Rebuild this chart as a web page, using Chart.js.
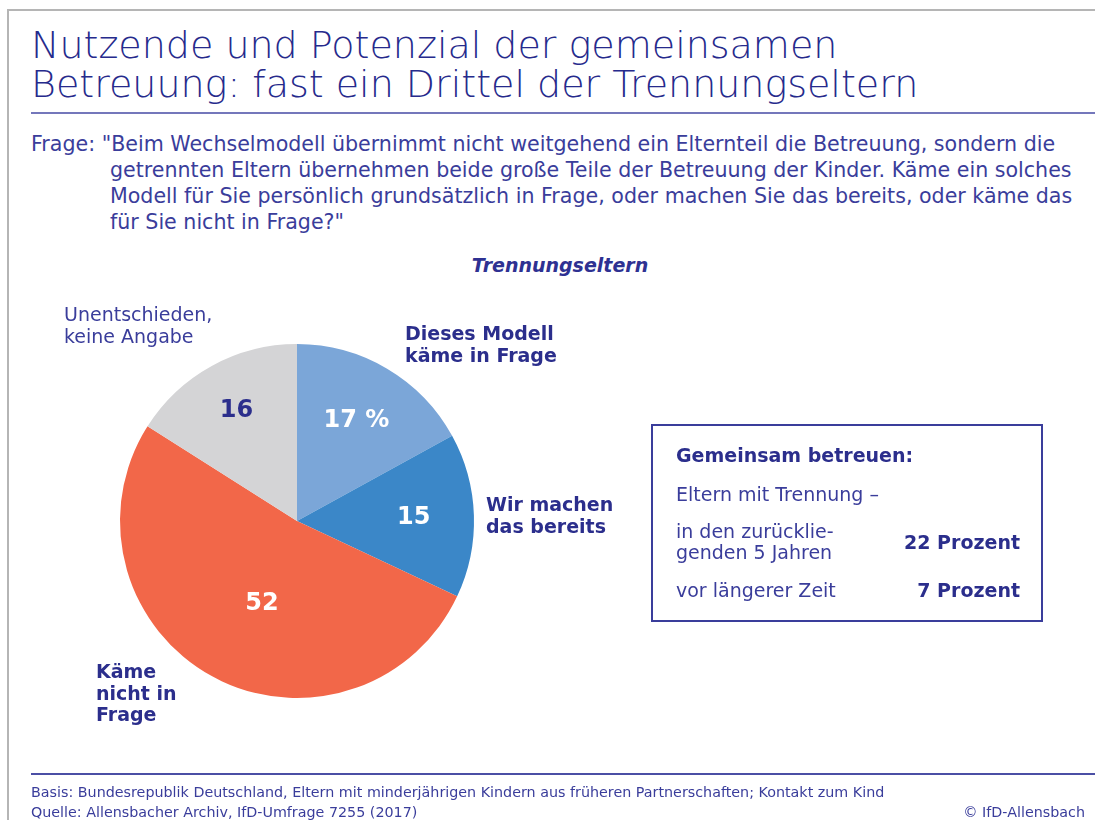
<!DOCTYPE html>
<html lang="de">
<head>
<meta charset="utf-8">
<title>Nutzende und Potenzial der gemeinsamen Betreuung</title>
<script src="https://cdn.jsdelivr.net/npm/chart.js@4.4.1/dist/chart.umd.min.js"></script>
<style>
  body {
    margin: 0;
    width: 1095px;
    height: 820px;
    position: relative;
    overflow: hidden;
    background: #fff;
    font-family: 'DejaVu Sans', sans-serif;
    color: #2e3192;
  }
  .frame {
    position: absolute; left: 7px; top: 9px; right: -2px; bottom: -2px;
    border-left: 2px solid #b5b5b5; border-top: 2px solid #b5b5b5;
  }
  .title {
    position: absolute; left: 31px; top: 26px;
    font-size: 38px; line-height: 39px; font-weight: 300;
    color: #262a8c;
  }
  .rule { position: absolute; left: 31px; right: 0; height: 0; border-top: 2px solid #4b4fa5; }
  .rule.light { border-top-color: #7477bb; }
  .question {
    position: absolute; left: 31px; top: 131px; width: 1064px;
    font-size: 20.6px; line-height: 26px; color: #3a3d9b; white-space: nowrap;
  }
  .question .indent { padding-left: 79px; display: block; }
  .subtitle {
    position: absolute; left: 440px; width: 240px; top: 254px; text-align: center;
    font-size: 19px; font-weight: bold; font-style: italic;
  }
  #chartWrap { position: absolute; left: 0; top: 250px; width: 660px; height: 542px; }
  .lbl { position: absolute; font-size: 19px; line-height: 21.5px; white-space: nowrap; }
  .lbl.b { font-weight: bold; color: #2b2e8c; }
  .lbl.n { color: #3a3d9b; }
  .box {
    position: absolute; left: 651px; top: 424px; width: 388px; height: 194px;
    border: 2px solid #3a3d9b;
  }
  .box div { position: absolute; font-size: 19px; line-height: 21px; color: #3a3d9b; white-space: nowrap; }
  .box .b { font-weight: bold; color: #2b2e8c; }
  .box .r { right: 21px; text-align: right; }
  .foot { position: absolute; font-size: 14.3px; line-height: 18px; color: #3a3d9b; white-space: nowrap; }
</style>
</head>
<body>
<div class="frame"></div>
<div class="title">Nutzende und Potenzial der gemeinsamen<br>Betreuung: fast ein Drittel der Trennungseltern</div>
<div class="rule light" style="top:112px"></div>
<div class="question">Frage: "Beim Wechselmodell übernimmt nicht weitgehend ein Elternteil die Betreuung, sondern die<span class="indent">getrennten Eltern übernehmen beide große Teile der Betreuung der Kinder. Käme ein solches<br>Modell für Sie persönlich grundsätzlich in Frage, oder machen Sie das bereits, oder käme das<br>für Sie nicht in Frage?"</span></div>
<div class="subtitle">Trennungseltern</div>

<div id="chartWrap"><canvas id="pie"></canvas></div>
<div id="labels"></div>

<div class="box">
  <div class="b" style="left:23px; top:19px;">Gemeinsam betreuen:</div>
  <div style="left:23px; top:58px;">Eltern mit Trennung –</div>
  <div style="left:23px; top:95px;">in den zurücklie-<br>genden 5 Jahren</div>
  <div class="b r" style="top:106px;">22 Prozent</div>
  <div style="left:23px; top:154px;">vor längerer Zeit</div>
  <div class="b r" style="top:154px;">7 Prozent</div>
</div>

<div class="rule" style="top:773px"></div>
<div class="foot" style="left:31px; top:783px;">Basis: Bundesrepublik Deutschland, Eltern mit minderjährigen Kindern aus früheren Partnerschaften; Kontakt zum Kind</div>
<div class="foot" style="left:31px; top:803px;">Quelle: Allensbacher Archiv, IfD-Umfrage 7255 (2017)</div>
<div class="foot" style="right:10px; top:803px;">© IfD-Allensbach</div>

<script>
// Werte aus der Grafik (im Uhrzeigersinn ab 12 Uhr)
const categories = [
  ['Dieses Modell', 'käme in Frage'],
  ['Wir machen', 'das bereits'],
  ['Käme', 'nicht in', 'Frage'],
  ['Unentschieden,', 'keine Angabe']
];
const values = [17, 15, 52, 16];
const valueLabels = ['17 %', '15', '52', '16'];

const sliceColors = ['#7ba6d8', '#3b87c8', '#f26749', '#d4d4d6'];
const valueColors = ['#ffffff', '#ffffff', '#ffffff', '#2b2e8c'];
const valueRadius = [0.66, 0.66, 0.51, 0.71];
const valueAngleShift = [0, 0, -6, 0]; // Grad

// Außenbeschriftungen
const labelPos = [
  { left: 405, top: 323, cls: 'b' },
  { left: 486, top: 494, cls: 'b' },
  { left: 96, top: 661, cls: 'b' },
  { left: 64, top: 304, cls: 'n' }
];
const labelHost = document.getElementById('labels');
categories.forEach((lines, i) => {
  const d = document.createElement('div');
  d.className = 'lbl ' + labelPos[i].cls;
  d.style.left = labelPos[i].left + 'px';
  d.style.top = labelPos[i].top + 'px';
  d.innerHTML = lines.join('<br>');
  labelHost.appendChild(d);
});

const valueLabelPlugin = {
  id: 'valueLabels',
  afterDatasetsDraw(chart) {
    const ctx = chart.ctx;
    const meta = chart.getDatasetMeta(0);
    ctx.save();
    ctx.font = 'bold 24px "DejaVu Sans", sans-serif';
    ctx.textAlign = 'center';
    ctx.textBaseline = 'middle';
    meta.data.forEach((arc, i) => {
      const p = arc.getProps(['x', 'y', 'startAngle', 'endAngle', 'outerRadius'], true);
      const mid = (p.startAngle + p.endAngle) / 2 + valueAngleShift[i] * Math.PI / 180;
      const r = p.outerRadius * valueRadius[i];
      ctx.fillStyle = valueColors[i];
      ctx.fillText(valueLabels[i], p.x + Math.cos(mid) * r, p.y + Math.sin(mid) * r);
    });
    ctx.restore();
  }
};

new Chart(document.getElementById('pie'), {
  type: 'pie',
  data: {
    labels: categories.map(l => l.join(' ')),
    datasets: [{
      data: values,
      backgroundColor: sliceColors,
      borderWidth: 0
    }]
  },
  options: {
    responsive: true,
    maintainAspectRatio: false,
    animation: false,
    layout: { padding: { left: 120, right: 186, top: 94, bottom: 94 } },
    plugins: {
      legend: { display: false },
      tooltip: { enabled: false }
    }
  },
  plugins: [valueLabelPlugin]
});
</script>
</body>
</html>
